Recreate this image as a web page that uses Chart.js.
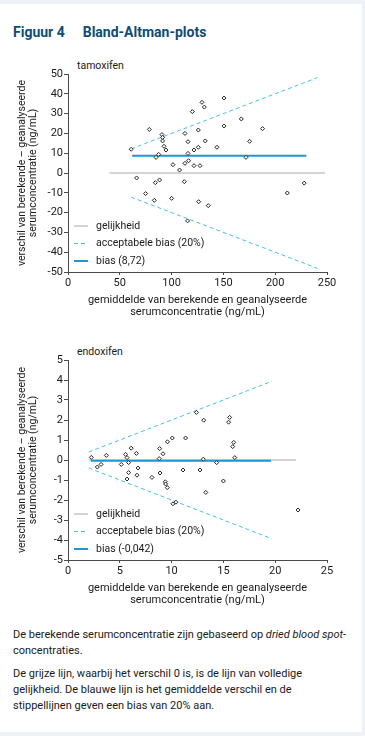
<!DOCTYPE html>
<html>
<head>
<meta charset="utf-8">
<script src="https://cdn.jsdelivr.net/npm/chart.js@4/dist/chart.umd.min.js"></script>
<style>
  html, body { margin: 0; padding: 0; }
  body { width: 365px; height: 736px; background: #eef1f5; position: relative; overflow: hidden;
         font-family: Roboto, "Open Sans", sans-serif; color: #1a1a1a; }
  #page { position: absolute; left: 0; top: 4px; width: 362px; height: 728px; background: #fff; }
  .fig-title { position: absolute; left: 13px; top: 24px; font-size: 14px; font-weight: bold; color: #0e4c76; white-space: nowrap; }
  .fig-title span { margin-right: 18px; }
  .panel-title { position: absolute; left: 77px; font-size: 10.5px; color: #1a1a1a; }
  .chart-box { position: absolute; left: 0; width: 345px; }
  .note { position: absolute; left: 13px; top: 627px; width: 350px; font-size: 11px; line-height: 16px; color: #1a1a1a; white-space: nowrap; }
  .note p { margin: 0 0 7px 0; }
</style>
</head>
<body>
<div id="page"></div>
<div class="fig-title"><span>Figuur 4</span>Bland-Altman-plots</div>

<div class="panel-title" style="top:59px">tamoxifen</div>
<div class="chart-box" style="top:56px;height:264px"><canvas id="tamoxifen"></canvas></div>

<div class="panel-title" style="top:345px">endoxifen</div>
<div class="chart-box" style="top:342px;height:266px"><canvas id="endoxifen"></canvas></div>

<div class="note">
  <p>De berekende serumconcentratie zijn gebaseerd op <i>dried blood spot</i>-<br>concentraties.</p>
  <p>De grijze lijn, waarbij het verschil 0 is, is de lijn van volledige<br>gelijkheid. De blauwe lijn is het gemiddelde verschil en de<br>stippellijnen geven een bias van 20% aan.</p>
</div>

<script>
// tamoxifen: gemiddelde (x) en verschil (y), ng/mL
const tamMean = [61, 78.5, 90.7, 91.3, 91.3, 92.7, 94.6, 87.5, 85, 101.3, 107.7, 112.9, 115.8, 116.4, 121.6,
  121.6, 127.4, 125.8, 132.5, 115.8, 112.9, 125.8, 120, 129.3, 131.6, 150.6, 150.6, 143.8, 167.3, 175.3,
  171.8, 187.8, 66.2, 84.3, 88.4, 112.3, 74.9, 83.3, 100, 126.1, 135.4, 115.4, 211.7, 228];
const tamDiff = [12, 22, 19.4, 18, 16.2, 13.5, 11.6, 9.4, 7.9, 4.2, 1.5, 4.9, 9.9, 6.2, 11.6,
  3.7, 3.7, 13, 16.2, 15.8, 20, 21.7, 31, 35.7, 33.3, 37.9, 23.7, 13, 27.3, 16,
  7.9, 22.4, -2.5, -4.9, -3.5, -4.4, -10.4, -13.8, -12.8, -14.5, -16.5, -24.2, -10.1, -5.1];
const tamBias = 8.72;
const tamEqualX = [40, 248];
const tamBiasX = [62, 230];
const tamLimitX = [61, 241];
const tamLimitUpper = [12.2, 48.2];
const tamLimitLower = [-12.2, -48.2];
const tamXTicks = [0, 250, 50];   // min, max, step
const tamYTicks = [-50, 50, 10];

// endoxifen
const endMean = [12.4, 13.1, 15.6, 15.5, 11.35, 10.07, 9.6, 8.85, 6.1, 6.6, 9.17, 16.0, 15.9, 2.25, 3.7,
  5.56, 5.7, 8.8, 13.06, 16.1, 14.35, 2.83, 3.19, 5.14, 5.85, 6.76, 8.88, 5.85, 6.66, 5.7,
  8.1, 11.1, 12.74, 9.39, 9.42, 9.58, 15.0, 13.3, 10.13, 10.42, 22.2];
const endDiff = [2.38, 1.99, 2.13, 1.89, 1.10, 1.10, 0.91, 0.57, 0.59, 0.33, 0.31, 0.88, 0.67, 0.13, 0.23,
  0.28, 0.12, 0.07, 0.04, 0.12, -0.13, -0.35, -0.22, -0.22, -0.13, -0.40, -0.65, -0.63, -0.76, -0.95,
  -0.87, -0.50, -0.50, -1.09, -1.20, -1.38, -1.05, -1.62, -2.19, -2.11, -2.5];
const endBias = -0.042;
const endEqualX = [2, 22];
const endBiasX = [2.2, 19.6];
const endLimitX = [2, 19.7];
const endLimitUpper = [0.4, 3.94];
const endLimitLower = [-0.4, -3.94];
const endXTicks = [0, 25, 5];
const endYTicks = [-5, 5, 1];

const grayLine = '#a8a8a8';
const limitBlue = '#45c0ec';
const biasBlue = '#1898d5';
const axisColor = '#4a4a4a';

Chart.defaults.font.family = 'Roboto, "Open Sans", sans-serif';
Chart.defaults.font.size = 11;
Chart.defaults.color = '#1a1a1a';

function pairs(xs, ys) {
  return xs.map((x, i) => ({ x: x, y: ys[i] }));
}

// legend inside the plot, bottom-left
const insideLegend = {
  id: 'insideLegend',
  afterDraw(chart) {
    const ctx = chart.ctx;
    const area = chart.chartArea;
    const items = chart.data.datasets.filter(ds => ds.legendRow !== undefined);
    const offsets = [46, 28.5, 11];
    ctx.save();
    ctx.font = '10.5px Roboto, "Open Sans", sans-serif';
    ctx.textBaseline = 'middle';
    items.forEach(ds => {
      const y = area.bottom - offsets[ds.legendRow];
      ctx.beginPath();
      ctx.strokeStyle = ds.borderColor;
      ctx.lineWidth = ds.borderWidth;
      ctx.setLineDash(ds.borderDash || []);
      ctx.moveTo(area.left + 6, y);
      ctx.lineTo(area.left + 20, y);
      ctx.stroke();
      ctx.setLineDash([]);
      ctx.fillStyle = '#1a1a1a';
      ctx.fillText(ds.label, area.left + 28, y);
    });
    ctx.restore();
  }
};

function makeChart(id, d) {
  const canvas = document.getElementById(id);
  return new Chart(canvas, {
    type: 'scatter',
    data: {
      datasets: [
        {
          label: 'metingen',
          data: pairs(d.mean, d.diff),
          pointStyle: 'rectRot',
          pointRadius: 2,
          pointBorderWidth: 1,
          borderColor: '#222',
          backgroundColor: '#fff'
        },
        {
          label: d.biasLabel,
          legendRow: 2,
          data: pairs(d.biasX, [d.bias, d.bias]),
          showLine: true,
          pointRadius: 0,
          borderColor: biasBlue,
          borderWidth: 2
        },
        {
          label: 'acceptabele bias (20%)',
          legendRow: 1,
          data: pairs(d.limitX, d.upper),
          showLine: true,
          pointRadius: 0,
          borderColor: limitBlue,
          borderWidth: 1,
          borderDash: [4, 3]
        },
        {
          label: 'acceptabele bias (20%) onder',
          data: pairs(d.limitX, d.lower),
          showLine: true,
          pointRadius: 0,
          borderColor: limitBlue,
          borderWidth: 1,
          borderDash: [4, 3]
        },
        {
          label: 'gelijkheid',
          legendRow: 0,
          data: pairs(d.equalX, [0, 0]),
          showLine: true,
          pointRadius: 0,
          borderColor: grayLine,
          borderWidth: 1
        }
      ]
    },
    options: {
      responsive: true,
      maintainAspectRatio: false,
      animation: false,
      layout: { padding: { top: 18, right: 18, left: 0, bottom: 0 } },
      plugins: {
        legend: { display: false },
        tooltip: { enabled: false }
      },
      scales: {
        x: {
          type: 'linear',
          min: d.xTicks[0],
          max: d.xTicks[1],
          ticks: { stepSize: d.xTicks[2], padding: 2, maxRotation: 0, color: '#1a1a1a' },
          grid: { display: true, drawOnChartArea: false, drawTicks: true, tickLength: 3, color: axisColor },
          border: { display: true, color: axisColor, width: 1 },
          title: {
            display: true,
            text: ['gemiddelde van berekende en geanalyseerde', 'serumconcentratie (ng/mL)'],
            font: { size: 11, lineHeight: 1.1 },
            padding: { top: 0, bottom: 2 },
            color: '#1a1a1a'
          },
          afterFit: s => { s.height = 48; }
        },
        y: {
          type: 'linear',
          min: d.yTicks[0],
          max: d.yTicks[1],
          ticks: { stepSize: d.yTicks[2], padding: 1, color: '#1a1a1a' },
          grid: { display: true, drawOnChartArea: false, drawTicks: true, tickLength: 4, color: axisColor },
          border: { display: true, color: axisColor, width: 1 },
          title: {
            display: true,
            text: ['verschil van berekende \u2013 geanalyseerde', 'serumconcentratie (ng/mL)'],
            font: { size: 10.5, lineHeight: 1.05 },
            padding: { top: 16.5, bottom: 0 },
            color: '#1a1a1a'
          },
          afterFit: s => { s.width = 68; }
        }
      }
    },
    plugins: [insideLegend]
  });
}

makeChart('tamoxifen', {
  mean: tamMean, diff: tamDiff, bias: tamBias, biasLabel: 'bias (8,72)',
  equalX: tamEqualX, biasX: tamBiasX, limitX: tamLimitX,
  upper: tamLimitUpper, lower: tamLimitLower, xTicks: tamXTicks, yTicks: tamYTicks
});

makeChart('endoxifen', {
  mean: endMean, diff: endDiff, bias: endBias, biasLabel: 'bias (-0,042)',
  equalX: endEqualX, biasX: endBiasX, limitX: endLimitX,
  upper: endLimitUpper, lower: endLimitLower, xTicks: endXTicks, yTicks: endYTicks
});
</script>
</body>
</html>
